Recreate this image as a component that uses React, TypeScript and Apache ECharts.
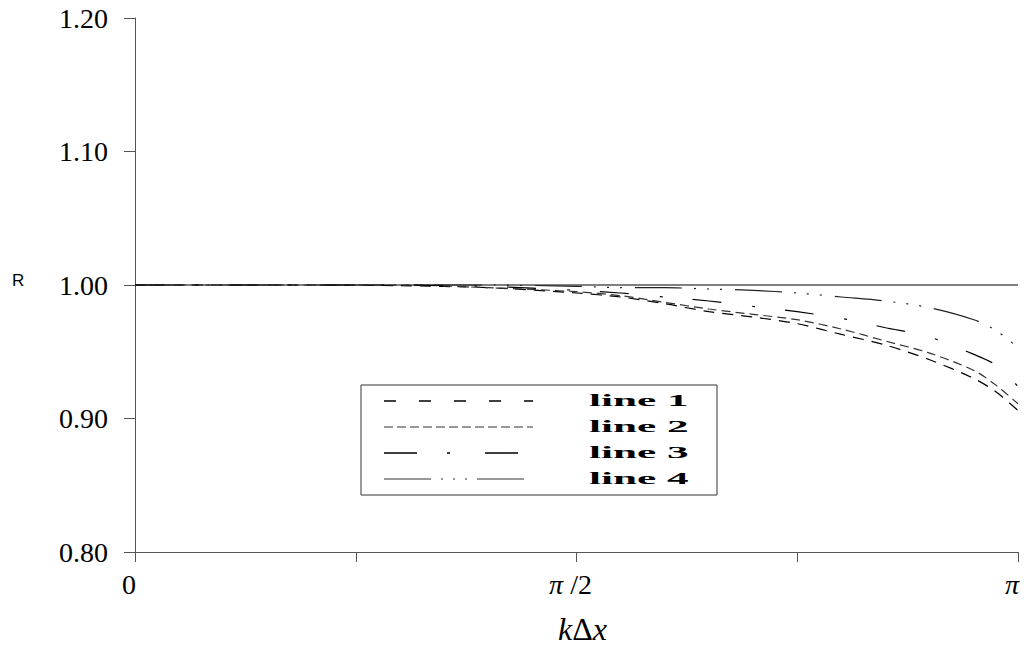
import React, { useEffect, useRef } from "react";
import * as echarts from "echarts";

// x positions as a fraction of pi (kΔx / π)
const xFrac = [0, 0.1, 0.2, 0.3, 0.4, 0.5, 0.55, 0.6, 0.65, 0.7, 0.75, 0.8, 0.85, 0.9, 0.95, 0.975, 1.0];
const line1 = [1, 1, 1, 0.9995, 0.998, 0.994, 0.991, 0.986, 0.98, 0.976, 0.971, 0.963, 0.955, 0.944, 0.93, 0.92, 0.906];
const line2 = [1, 1, 1, 1, 0.998, 0.995, 0.992, 0.987, 0.982, 0.978, 0.974, 0.967, 0.958, 0.949, 0.936, 0.925, 0.911];
const line3 = [1, 1, 1, 1, 0.999, 0.996, 0.994, 0.991, 0.988, 0.984, 0.98, 0.975, 0.968, 0.961, 0.948, 0.94, 0.924];
const line4 = [1, 1, 1, 1, 1, 0.999, 0.998, 0.998, 0.997, 0.996, 0.994, 0.991, 0.988, 0.983, 0.974, 0.966, 0.953];
const refLine = [1, 1];
const refX = [0, 1];
const seriesNames = ["line 1", "line 2", "line 3", "line 4"];
const xTickLabels = ["0", "", "{i|π} /2", "", "{i|π}"];

const SERIF = '"Liberation Serif", "Times New Roman", serif';

export default function App() {
  const ref = useRef<HTMLDivElement>(null);
  useEffect(() => {
    if (!ref.current) return;
    const chart = echarts.init(ref.current, undefined, { renderer: "svg" });
    const all = [line1, line2, line3, line4];
    const colors = ["#000", "#333", "#000", "#222"];
    const dashes = [
      [11, 8],
      [9, 5],
      [29, 31, 3, 30],
      [47, 12, 2, 11, 2, 11, 2, 13],
    ];
    const legendDashes = [
      [12, 23],
      [9, 4],
      [33, 30, 3, 35],
      [47, 10, 2, 10, 2, 10, 2, 10],
    ];
    const legendColors = ["#000", "#777", "#000", "#777"];
    const rowsY = [401, 427, 453, 479];
    const graphic: any[] = [
      {
        type: "rect",
        shape: { x: 361, y: 385, width: 356, height: 110 },
        style: { fill: "#fff", stroke: "#333", lineWidth: 1 },
        z: 10,
      },
      {
        type: "text",
        x: 12,
        y: 280,
        style: { text: "R", font: '17px "Liberation Sans", Arial, sans-serif', fill: "#000", verticalAlign: "middle" },
      },
    ];
    seriesNames.forEach((n, i) => {
      graphic.push({
        type: "line",
        shape: { x1: 384, y1: rowsY[i], x2: 533, y2: rowsY[i] },
        style: { stroke: legendColors[i], lineWidth: 1.3, lineDash: legendDashes[i] },
        z: 11,
      });
      graphic.push({
        type: "text",
        x: 589,
        y: rowsY[i],
        scaleX: 2.7,
        style: { text: n, font: `bold 16px ${SERIF}`, fill: "#000", verticalAlign: "middle" },
        z: 11,
      });
    });

    const series: any[] = [
      {
        type: "line",
        name: "ref",
        data: refX.map((x, i) => [x, refLine[i]]),
        symbol: "none",
        lineStyle: { color: "#808080", width: 2 },
        z: 1,
      },
    ];
    all.forEach((d, i) => {
      series.push({
        type: "line",
        name: seriesNames[i],
        data: xFrac.map((x, j) => [x, d[j]]),
        symbol: "none",
        smooth: 0.3,
        lineStyle: { color: colors[i], width: 1.2, type: dashes[i] },
        z: 2,
      });
    });

    chart.setOption({
      animation: false,
      backgroundColor: "#fff",
      grid: { left: 135, right: 10, top: 18, bottom: 95 },
      xAxis: {
        type: "value",
        min: 0,
        max: 1,
        interval: 0.25,
        name: "{i|k}{n|Δ}{i|x}",
        nameLocation: "middle",
        nameGap: 61,
        nameTextStyle: {
          padding: [0, 0, 0, 12],
          rich: {
            i: { fontFamily: SERIF, fontStyle: "italic", fontSize: 32, color: "#000" },
            n: { fontFamily: SERIF, fontSize: 32, color: "#000" },
          },
        },
        axisLine: { onZero: false, lineStyle: { color: "#555", width: 1 } },
        axisTick: { inside: false, length: 10, lineStyle: { color: "#555" } },
        splitLine: { show: false },
        axisLabel: {
          margin: 18,
          padding: [0, 12, 0, 0],
          fontFamily: SERIF,
          fontSize: 28,
          color: "#000",
          formatter: (_v: number, idx: number) => xTickLabels[idx] ?? "",
          rich: {
            i: { fontFamily: SERIF, fontStyle: "italic", fontSize: 28, color: "#000" },
          },
        },
      },
      yAxis: {
        type: "value",
        min: 0.8,
        max: 1.2,
        interval: 0.1,
        axisLine: { show: true, lineStyle: { color: "#555", width: 1 } },
        axisTick: { show: true, inside: false, length: 11, lineStyle: { color: "#555" } },
        splitLine: { show: false },
        axisLabel: {
          margin: 27,
          fontFamily: SERIF,
          fontSize: 28,
          color: "#000",
          formatter: (v: number) => v.toFixed(2),
        },
      },
      series,
      graphic,
    });
    return () => chart.dispose();
  }, []);
  return <div ref={ref} style={{ position: "fixed", left: 0, top: 0, width: 1028, height: 650 }} />;
}
